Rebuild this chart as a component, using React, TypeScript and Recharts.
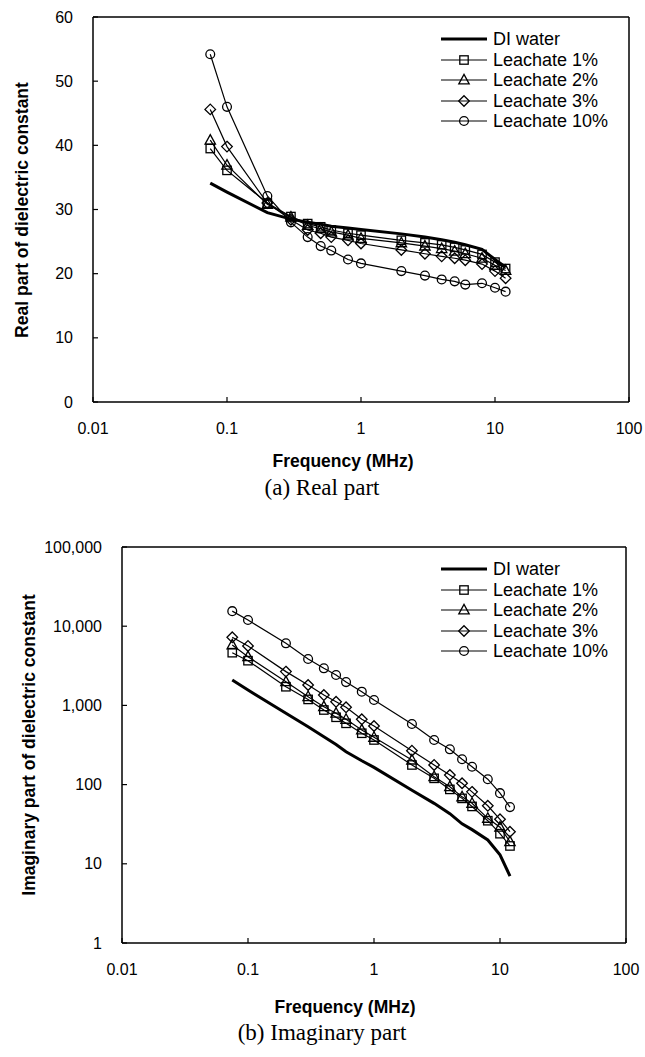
import React from "react";
import { LineChart, Line, XAxis, YAxis, ReferenceLine, Legend } from "recharts";

// ---------- data ----------
const frequencies = [0.075, 0.1, 0.2, 0.3, 0.4, 0.5, 0.6, 0.8, 1, 2, 3, 4, 5, 6, 8, 10, 12];

const realDIWater = [34.1, 32.7, 29.5, 28.5, 28.0, 27.7, 27.4, 27.1, 26.9, 26.2, 25.7, 25.3, 24.9, 24.5, 23.8, 22.2, 21.0];
const realLeachate1 = [39.5, 36.1, 31.0, 28.9, 27.8, 27.3, 26.8, 26.3, 26.0, 25.2, 24.8, 24.5, 24.1, 23.7, 23.0, 21.8, 20.8];
const realLeachate2 = [40.8, 36.9, 30.8, 28.8, 27.5, 27.0, 26.5, 26.0, 25.5, 24.8, 24.3, 23.9, 23.5, 23.1, 22.4, 21.3, 20.5];
const realLeachate3 = [45.6, 39.8, 31.0, 28.4, 26.8, 26.3, 25.7, 25.2, 24.7, 23.7, 23.1, 22.7, 22.4, 22.1, 21.5, 20.4, 19.3];
const realLeachate10 = [54.2, 46.0, 32.1, 28.0, 25.7, 24.3, 23.6, 22.2, 21.6, 20.4, 19.7, 19.1, 18.8, 18.3, 18.5, 17.8, 17.2];

const imagDIWater = [2090, 1560, 795, 537, 403, 320, 260, 200, 165, 85, 58, 43, 32, 27, 20, 13, 7];
const imagLeachate1 = [4630, 3670, 1720, 1190, 875, 708, 594, 445, 366, 177, 120, 87, 67, 53, 35, 24, 16.8];
const imagLeachate2 = [5800, 4120, 1990, 1290, 963, 795, 667, 489, 395, 204, 126, 94, 70, 58, 37.5, 29, 19];
const imagLeachate3 = [7240, 5630, 2670, 1810, 1350, 1110, 946, 667, 549, 268, 177, 132, 104, 81, 54, 36.5, 25.4];
const imagLeachate10 = [15500, 11970, 6080, 3850, 2940, 2420, 1970, 1490, 1170, 582, 366, 279, 209, 168, 117, 78, 52];

const seriesNames = ["DI water", "Leachate 1%", "Leachate 2%", "Leachate 3%", "Leachate 10%"];
const xTickValues = [0.01, 0.1, 1, 10, 100];
const realTickValues = [0, 10, 20, 30, 40, 50, 60];
const imagTickValues = [1, 10, 100, 1000, 10000, 100000];

const realRows = frequencies.map((f, i) => ({
  f,
  di: realDIWater[i],
  l1: realLeachate1[i],
  l2: realLeachate2[i],
  l3: realLeachate3[i],
  l10: realLeachate10[i],
}));

const imagRows = frequencies.map((f, i) => ({
  f,
  di: imagDIWater[i],
  l1: imagLeachate1[i],
  l2: imagLeachate2[i],
  l3: imagLeachate3[i],
  l10: imagLeachate10[i],
}));

// ---------- styles ----------
const seriesKeys = ["di", "l1", "l2", "l3", "l10"];
const seriesShapes = [null, "square", "triangle", "diamond", "circle"];
const seriesWidths = [3, 1.2, 1.2, 1.2, 1.2];

const SANS = "'Liberation Sans', Arial, sans-serif";
const SERIF = "'Liberation Serif', 'Times New Roman', serif";
const TICK_SIZE = 16;

function Marker({ shape, cx, cy }: any) {
  if (cx == null || cy == null) return null;
  const s = { fill: "none", stroke: "#000", strokeWidth: 1.3 };
  if (shape === "square") return <rect x={cx - 4.2} y={cy - 4.2} width={8.4} height={8.4} {...s} />;
  if (shape === "triangle")
    return <polygon points={`${cx},${cy - 5.6} ${cx + 5.2},${cy + 3.9} ${cx - 5.2},${cy + 3.9}`} {...s} />;
  if (shape === "diamond")
    return <polygon points={`${cx},${cy - 5.3} ${cx + 5.3},${cy} ${cx},${cy + 5.3} ${cx - 5.3},${cy}`} {...s} />;
  if (shape === "circle") return <circle cx={cx} cy={cy} r={4.4} {...s} />;
  return null;
}

function LegendBox() {
  return (
    <div style={{ fontFamily: SANS, fontSize: 18, color: "#000" }}>
      {seriesNames.map((name, i) => (
        <div key={name} style={{ display: "flex", alignItems: "center", height: 20.5, whiteSpace: "nowrap" }}>
          <svg width={53} height={20} style={{ display: "block" }}>
            <line x1={1} x2={47} y1={10} y2={10} stroke="#000" strokeWidth={seriesWidths[i]} />
            <Marker shape={seriesShapes[i]} cx={24} cy={10} />
          </svg>
          <span style={{ lineHeight: "20px" }}>{name}</span>
        </div>
      ))}
    </div>
  );
}

type PanelProps = {
  rows: any[];
  height: number;
  plotTop: number;
  plotBottom: number;
  plotLeft: number;
  plotRight: number;
  yLog: boolean;
  yDomain: [number, number];
  yTicks: number[];
  yFormat: (v: number) => string;
  yTitle: string;
  yTitleX: number;
  xTitleX: number;
  xTitleY: number;
};

function Panel(p: PanelProps) {
  const W = 645;
  const xAxisHeight = 30;
  const xTick = (t: any) => (
    <g key={`xt-${t.payload.value}`}>
      <line x1={t.x} x2={t.x} y1={p.plotBottom} y2={p.plotBottom - 5} stroke="#000" strokeWidth={1.2} />
      <text
        x={t.x}
        y={p.plotBottom + 26}
        textAnchor="middle"
        dominantBaseline="central"
        fontFamily={SANS}
        fontSize={TICK_SIZE}
        fill="#000"
      >
        {String(t.payload.value)}
      </text>
    </g>
  );
  const yTick = (t: any) => (
    <g key={`yt-${t.payload.value}`}>
      <line x1={p.plotLeft} x2={p.plotLeft + 5} y1={t.y} y2={t.y} stroke="#000" strokeWidth={1.2} />
      <text
        x={p.plotLeft - 20}
        y={t.y}
        textAnchor="end"
        dominantBaseline="central"
        fontFamily={SANS}
        fontSize={TICK_SIZE}
        fill="#000"
      >
        {p.yFormat(t.payload.value)}
      </text>
    </g>
  );
  return (
    <div style={{ position: "relative", width: W, height: p.height }}>
      <LineChart
        width={W}
        height={p.height}
        data={p.rows}
        margin={{ top: p.plotTop, right: W - p.plotRight, left: 0, bottom: p.height - xAxisHeight - p.plotBottom }}
      >
        <XAxis
          dataKey="f"
          type="number"
          scale="log"
          domain={[0.01, 100]}
          ticks={xTickValues}
          allowDataOverflow
          height={xAxisHeight}
          axisLine={{ stroke: "#000", strokeWidth: 1.5 }}
          tickLine={false}
          tick={xTick}
          interval={0}
        />
        <YAxis
          type="number"
          scale={p.yLog ? "log" : "linear"}
          domain={p.yDomain}
          ticks={p.yTicks}
          allowDataOverflow
          width={p.plotLeft}
          axisLine={{ stroke: "#000", strokeWidth: 1.5 }}
          tickLine={false}
          tick={yTick}
          interval={0}
        />
        <ReferenceLine y={p.yDomain[1]} stroke="#000" strokeWidth={1.5} />
        <ReferenceLine x={100} stroke="#000" strokeWidth={1.5} />
        {seriesKeys.map((k, i) => (
          <Line
            key={k}
            dataKey={k}
            name={seriesNames[i]}
            type="linear"
            stroke="#000"
            strokeWidth={seriesWidths[i]}
            isAnimationActive={false}
            activeDot={false}
            dot={
              seriesShapes[i]
                ? (d: any) => <Marker key={`${k}-${d.index}`} shape={seriesShapes[i]} cx={d.cx} cy={d.cy} />
                : false
            }
          />
        ))}
        <Legend
          layout="vertical"
          align="center"
          verticalAlign="middle"
          content={() => <LegendBox />}
          wrapperStyle={{ position: "absolute", left: 440, top: p.plotTop + 22 - 10.25, width: 200, height: 103 }}
        />
      </LineChart>
      <div
        style={{
          position: "absolute",
          left: p.yTitleX,
          top: (p.plotTop + p.plotBottom) / 2,
          transform: "translate(-50%, -50%) rotate(-90deg)",
          fontFamily: SANS,
          fontWeight: "bold",
          fontSize: 17.5,
          whiteSpace: "nowrap",
        }}
      >
        {p.yTitle}
      </div>
      <div
        style={{
          position: "absolute",
          left: p.xTitleX,
          top: p.xTitleY,
          transform: "translate(-50%, -50%)",
          fontFamily: SANS,
          fontWeight: "bold",
          fontSize: 17.5,
          whiteSpace: "nowrap",
        }}
      >
        Frequency (MHz)
      </div>
    </div>
  );
}

function Caption({ text, y }: { text: string; y: number }) {
  return (
    <div
      style={{
        position: "absolute",
        left: 322,
        top: y,
        transform: "translate(-50%, -50%)",
        fontFamily: SERIF,
        fontSize: 23,
        whiteSpace: "nowrap",
        color: "#000",
      }}
    >
      {text}
    </div>
  );
}

export default function App() {
  return (
    <div style={{ position: "absolute", left: 0, top: 0, width: 645, height: 1057, background: "#fff" }}>
      <div style={{ position: "absolute", left: 0, top: 0 }}>
        <Panel
          rows={realRows}
          height={445}
          plotTop={17}
          plotBottom={402}
          plotLeft={93}
          plotRight={629}
          yLog={false}
          yDomain={[0, 60]}
          yTicks={realTickValues}
          yFormat={(v) => String(v)}
          yTitle="Real part of dielectric constant"
          yTitleX={22}
          xTitleX={343}
          xTitleY={461}
        />
      </div>
      <Caption text="(a) Real part" y={488} />
      <div style={{ position: "absolute", left: 0, top: 530 }}>
        <Panel
          rows={imagRows}
          height={460}
          plotTop={17}
          plotBottom={413}
          plotLeft={122}
          plotRight={626}
          yLog={true}
          yDomain={[1, 100000]}
          yTicks={imagTickValues}
          yFormat={(v) => v.toLocaleString("en-US")}
          yTitle="Imaginary part of dielectric constant"
          yTitleX={29}
          xTitleX={345}
          xTitleY={477}
        />
      </div>
      <Caption text="(b) Imaginary part" y={1033} />
    </div>
  );
}
